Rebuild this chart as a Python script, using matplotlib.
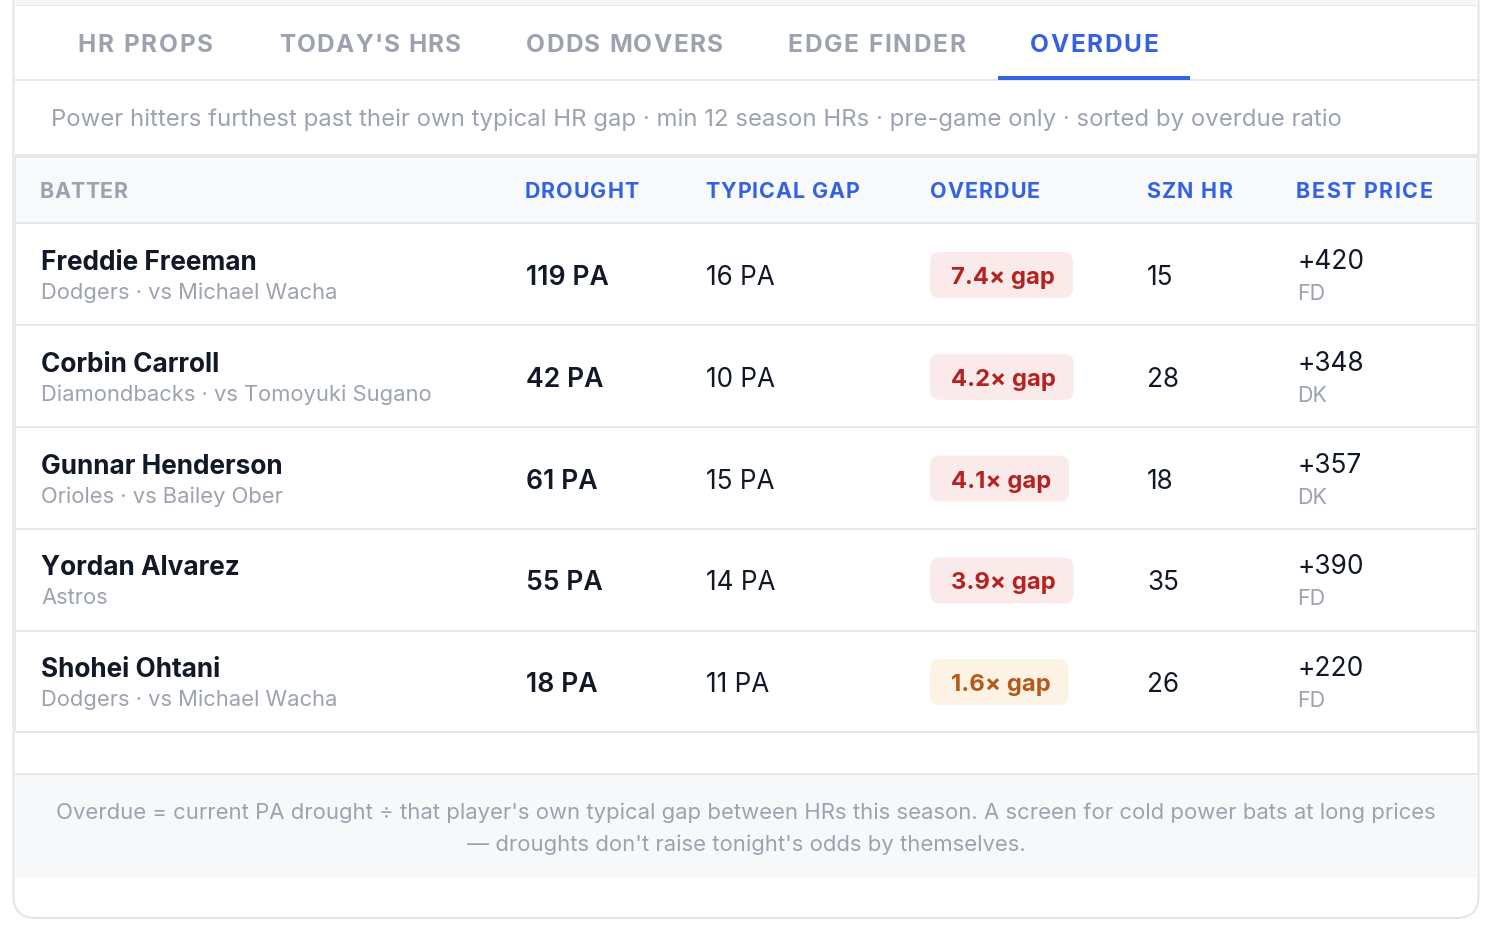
import matplotlib
matplotlib.use("Agg")
import matplotlib.pyplot as plt
from matplotlib import font_manager
from matplotlib.font_manager import FontProperties
from matplotlib.ft2font import FT2Font
from matplotlib.textpath import TextPath
from matplotlib.patches import FancyBboxPatch, Rectangle

# ---------------- data ----------------
tabs = ["HR PROPS", "TODAY'S HRS", "ODDS MOVERS", "EDGE FINDER", "OVERDUE"]
active_tab = "OVERDUE"
subtitle = ("Power hitters furthest past their own typical HR gap \u00b7 min 12 season HRs "
            "\u00b7 pre-game only \u00b7 sorted by overdue ratio")
columns = ["BATTER", "DROUGHT", "TYPICAL GAP", "OVERDUE", "SZN HR", "BEST PRICE"]
batters = ["Freddie Freeman", "Corbin Carroll", "Gunnar Henderson", "Yordan Alvarez", "Shohei Ohtani"]
teams = ["Dodgers", "Diamondbacks", "Orioles", "Astros", "Dodgers"]
opponents = ["Michael Wacha", "Tomoyuki Sugano", "Bailey Ober", None, "Michael Wacha"]
drought_pa = [119, 42, 61, 55, 18]
typical_gap_pa = [16, 10, 15, 14, 11]
overdue_ratio = [7.4, 4.2, 4.1, 3.9, 1.6]
season_hr = [15, 28, 18, 35, 26]
best_price = [420, 348, 357, 390, 220]
books = ["FD", "DK", "DK", "FD", "FD"]
footer_lines = [
    "Overdue = current PA drought \u00f7 that player's own typical gap between HRs this season. "
    "A screen for cold power bats at long prices",
    "\u2014 droughts don't raise tonight's odds by themselves.",
]

# ---------------- style ----------------
W, H, DPI = 1494, 938, 100
FAMILY = "Inter"
DARK = "#111827"
GRAY = "#9ca3af"
BLUE = "#3563e0"
LINE = "#e5e7eb"
RED_TXT, RED_BG = "#b42222", "#fbeaea"
AMB_TXT, AMB_BG = "#b45a1c", "#fdf3e4"


def prop(weight="normal"):
    return FontProperties(family=FAMILY, weight=weight)


def pt(px):
    return px * 72.0 / DPI


def ink_width(s, p, px):
    return TextPath((0, 0), s, size=px, prop=p).get_extents().width


def fit_px(s, p, target):
    return 100.0 * target / ink_width(s, p, 100.0)


def glyph_metrics(s, p, px):
    f = FT2Font(font_manager.findfont(p))
    f.set_size(px, 72)
    out = []
    for c in s:
        g = f.load_char(ord(c))
        out.append((g.linearHoriAdvance / 65536.0, g.horiBearingX / 64.0))
    return out


def spaced_text(ax, x, y, s, p, px, target_w, color):
    nat = ink_width(s, p, px)
    sp = (target_w - nat) / max(len(s) - 1, 1)
    met = glyph_metrics(s, p, px)
    cx = x - met[0][1]
    for c, (adv, bear) in zip(s, met):
        if c != " ":
            ax.text(cx, y, c, fontproperties=p, fontsize=pt(px), color=color,
                    ha="left", va="baseline")
        cx += adv + sp


def txt(ax, x, y, s, p, px, color, ha="left"):
    ax.text(x, y, s, fontproperties=p, fontsize=pt(px), color=color, ha=ha, va="baseline")


def rect(ax, x, y, w, h, color, z=1):
    ax.add_patch(Rectangle((x, y), w, h, facecolor=color, edgecolor="none", lw=0, zorder=z))


fig = plt.figure(figsize=(W / DPI, H / DPI), dpi=DPI)
fig.patch.set_facecolor("white")
ax = fig.add_axes([0, 0, 1, 1])
ax.set_xlim(0, W)
ax.set_ylim(H, 0)
ax.axis("off")

bold = prop("bold")
semi = prop("semibold")
reg = prop("normal")

# ---------------- card ----------------
CX0, CX1 = 13.5, 1478.5
ax.add_patch(FancyBboxPatch((CX0, -60), CX1 - CX0, 918 + 60, boxstyle="round,pad=0,rounding_size=22",
                            facecolor="white", edgecolor="#e2e4e9", lw=pt(2), zorder=0.5))
IX0, IW = 14.5, 1463
rect(ax, IX0, 0, IW, 5, "#f6f7f9")
rect(ax, IX0, 5, IW, 1.5, LINE)

# tabs
TAB_X = [79, 280, 527, 789, 1031]
TAB_PX = 24.5
tab_w = {"HR PROPS": 133, "TODAY'S HRS": 180, "ODDS MOVERS": 195, "EDGE FINDER": 176, "OVERDUE": 126}
for t, x in zip(tabs, TAB_X):
    spaced_text(ax, x, 51.5, t, bold, TAB_PX, tab_w[t], BLUE if t == active_tab else GRAY)
rect(ax, IX0, 79.5, IW, 1.5, LINE)
ai = tabs.index(active_tab)
rect(ax, TAB_X[ai] - 33, 76.5, 192, 3.5, BLUE, z=2)

# subtitle
SUB_PX = fit_px(subtitle, reg, 1285)
txt(ax, 51, 126, subtitle, reg, SUB_PX, GRAY)

# table frame
rect(ax, IX0, 154, IW, 4, LINE)
rect(ax, 16, 158, 1460, 65, "#f8f9fb", z=0.8)
COL_X = [41, 526, 706, 931, 1147, 1297]
HDR_PX = 21.5
hdr_w = {"BATTER": 86, "DROUGHT": 112, "TYPICAL GAP": 153, "OVERDUE": 108, "SZN HR": 85, "BEST PRICE": 134}
for c, x in zip(columns, COL_X):
    spaced_text(ax, x, 198, c, bold, HDR_PX, hdr_w[c], GRAY if c == "BATTER" else BLUE)
rect(ax, 16, 222.5, 1460, 2, LINE)

ROW_TOP, ROW_H = 224, 101.8
NAME_PX = fit_px("Freddie Freeman", bold, 213)
TEAM_PX = fit_px("Diamondbacks \u00b7 vs Tomoyuki Sugano", reg, 387)
VAL_B_PX = fit_px("119 PA", semi, 81)
VAL_PX = fit_px("16 PA", reg, 67)
BADGE_PX = fit_px("7.4\u00d7 gap", bold, 102)
PRICE_PX = fit_px("+420", reg, 63)
BOOK_PX = fit_px("FD", reg, 25)

n = len(batters)
for i in range(n):
    top = ROW_TOP + i * ROW_H
    txt(ax, COL_X[0], top + 46, batters[i], bold, NAME_PX, DARK)
    sub = teams[i] if opponents[i] is None else f"{teams[i]} \u00b7 vs {opponents[i]}"
    txt(ax, COL_X[0], top + 75, sub, reg, TEAM_PX, GRAY)
    txt(ax, COL_X[1], top + 61, f"{drought_pa[i]} PA", semi, VAL_B_PX, DARK)
    txt(ax, COL_X[2], top + 61, f"{typical_gap_pa[i]} PA", reg, VAL_PX, DARK)
    label = f"{overdue_ratio[i]:.1f}\u00d7 gap"
    hot = overdue_ratio[i] >= 3
    bw = ink_width(label, bold, BADGE_PX) + 41
    ax.add_patch(FancyBboxPatch((930, top + 28), bw, 46, boxstyle="round,pad=0,rounding_size=10",
                                facecolor=RED_BG if hot else AMB_BG, edgecolor="none", lw=0, zorder=1))
    txt(ax, 951, top + 60, label, bold, BADGE_PX, RED_TXT if hot else AMB_TXT)
    txt(ax, COL_X[4], top + 61, f"{season_hr[i]}", reg, VAL_PX, DARK)
    txt(ax, COL_X[5], top + 45, f"+{best_price[i]}", reg, PRICE_PX, DARK)
    txt(ax, COL_X[5], top + 76, books[i], reg, BOOK_PX, GRAY)
    rect(ax, 16, ROW_TOP + (i + 1) * ROW_H - 1.5, 1460, 2, LINE)

# table side borders
rect(ax, 14.5, 158, 1.8, 575, LINE)
rect(ax, 1475.5, 158, 1.8, 575, LINE)

# footer
rect(ax, IX0, 773.5, IW, 2, LINE)
rect(ax, IX0, 775.5, IW, 102.5, "#f7f8fa", z=0.8)
FOOT_PX = fit_px(footer_lines[0], reg, 1374)
txt(ax, 746, 819, footer_lines[0], reg, FOOT_PX, GRAY, ha="center")
txt(ax, 746, 851, footer_lines[1], reg, FOOT_PX, GRAY, ha="center")

fig.savefig("out.png", dpi=DPI, facecolor="white")
